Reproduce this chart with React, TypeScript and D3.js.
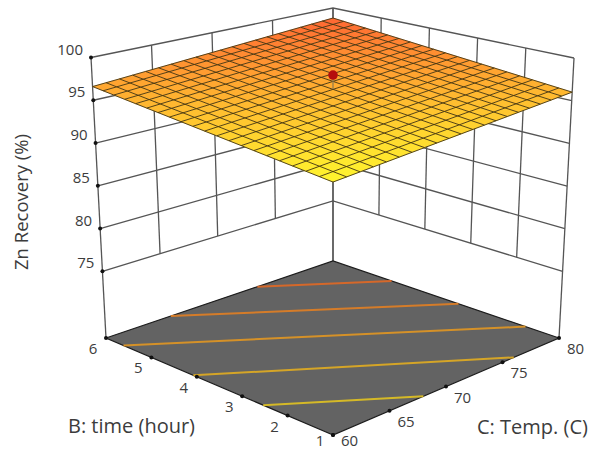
import React from 'react'
import * as d3 from 'd3'

const timeTicks = [1, 2, 3, 4, 5, 6]
const tempTicks = [60, 65, 70, 75, 80]
const recoveryTicks = [75, 80, 85, 90, 95, 100]
const contourLevels = [94.8, 95.6, 96.4, 97.2, 98.0]

// surface height at the four corners of the design space
const zFront = 94.0 // B=1, C=60
const zLeft = 96.6 // B=6, C=60
const zRight = 96.0 // B=1, C=80
const zBack = 98.7 // B=6, C=80

const designPoint = [3.5, 70, 98.0]
const gridSteps = d3.range(0, 21)

// the box frame on screen: front, left, right, back
const floorFrame = [[333, 435], [106, 338], [559, 338], [333, 261]]
const topFrame = [[333, 125.4], [91, 57.5], [574, 58], [333, 8]]

const uScale = d3.scaleLinear().domain([1, 6]).range([0, 1])
const vScale = d3.scaleLinear().domain([60, 80]).range([0, 1])
const wScale = d3.scaleLinear().domain([67.2, 100]).range([0, 1])

const bilinear = (q: number[], u: number, v: number) =>
  q[0] * (1 - u) * (1 - v) + q[1] * u * (1 - v) + q[2] * (1 - u) * v + q[3] * u * v

function project(b: number, c: number, z: number) {
  const u = uScale(b), v = vScale(c), w = wScale(z)
  const floor = [0, 1].map(i => bilinear(floorFrame.map(p => p[i]), u, v))
  const top = [0, 1].map(i => bilinear(topFrame.map(p => p[i]), u, v))
  return [floor[0] + (top[0] - floor[0]) * w, floor[1] + (top[1] - floor[1]) * w]
}

const surfaceZ = (u: number, v: number) => bilinear([zFront, zLeft, zRight, zBack], u, v)

// the surface has visible perspective, so it gets a real homography
const p0 = project(1, 60, zFront), p1 = project(6, 60, zLeft), p2 = project(6, 80, zBack), p3 = project(1, 80, zRight)
const sx = p0[0] - p1[0] + p2[0] - p3[0]
const sy = p0[1] - p1[1] + p2[1] - p3[1]
const dx1 = p1[0] - p2[0], dx2 = p3[0] - p2[0], dy1 = p1[1] - p2[1], dy2 = p3[1] - p2[1]
const det = dx1 * dy2 - dx2 * dy1
const g = (sx * dy2 - dx2 * sy) / det
const h = (dx1 * sy - sx * dy1) / det

function surfacePoint(u: number, v: number) {
  const d = g * u + h * v + 1
  return [
    ((p1[0] - p0[0] + g * p1[0]) * u + (p3[0] - p0[0] + h * p3[0]) * v + p0[0]) / d,
    ((p1[1] - p0[1] + g * p1[1]) * u + (p3[1] - p0[1] + h * p3[1]) * v + p0[1]) / d,
  ]
}

const colour = d3.scaleLinear<string>()
  .domain([94, 96.3, 98.7])
  .range(['#fff52e', '#ffb030', '#ff6633'])

const line = d3.line()

// where a contour level crosses the edge of the floor
function contourEnds(level: number) {
  const edges = [[[1, 60], [6, 60]], [[6, 60], [6, 80]], [[6, 80], [1, 80]], [[1, 80], [1, 60]]]
  const ends: number[][] = []
  edges.forEach(([a, b]) => {
    const za = surfaceZ(uScale(a[0]), vScale(a[1]))
    const zb = surfaceZ(uScale(b[0]), vScale(b[1]))
    if ((za - level) * (zb - level) < 0) {
      const t = (level - za) / (zb - za)
      ends.push(project(a[0] + (b[0] - a[0]) * t, a[1] + (b[1] - a[1]) * t, 67.2))
    }
  })
  return ends
}

const FONT = '"Open Sans", sans-serif'
const wall = { stroke: '#555', strokeWidth: 1.3, fill: 'none' }
const tickText = { fontFamily: FONT, fontSize: 15, fill: '#3c3c3c', textAnchor: 'middle' as const, dominantBaseline: 'central' as const }
const titleText = { fontFamily: FONT, fontSize: 20, fill: '#3c3c3c' }

export default function App() {
  const zMin = wScale.domain()[0]
  const cells = gridSteps.slice(0, -1).flatMap(i => gridSteps.slice(0, -1).map(j => [i / 20, j / 20]))
  const centre = surfacePoint(uScale(designPoint[0]), vScale(designPoint[1]))
  const lift = project(designPoint[0], designPoint[1], designPoint[2])[1] - project(designPoint[0], designPoint[1], surfaceZ(0.5, 0.5))[1]

  return (
    <svg width={598} height={450} style={{ position: 'absolute', left: 0, top: 0, background: '#fff' }}>
      {/* walls */}
      {recoveryTicks.map(z => (
        <path key={z} d={line([project(6, 60, z), project(6, 80, z), project(1, 80, z)])!} {...wall} />
      ))}
      {tempTicks.map(c => (
        <path key={c} d={line([project(6, c, c === 60 || c === 80 ? zMin : 75), project(6, c, 100)])!} {...wall} />
      ))}
      {timeTicks.slice(1).map(b => (
        <path key={b} d={line([project(b, 80, b === 6 ? zMin : 75), project(b, 80, 100)])!} {...wall} />
      ))}
      <path d={line([project(1, 80, zMin), project(1, 80, 100)])!} {...wall} />

      {/* floor */}
      <path
        d={line([project(1, 60, zMin), project(6, 60, zMin), project(6, 80, zMin), project(1, 80, zMin)])! + 'Z'}
        fill="#636363" stroke="#1c1c1c" strokeWidth={1.2}
      />
      {contourLevels.map(level => (
        <path key={level} d={line(contourEnds(level))!} fill="none" strokeWidth={2}
          stroke={d3.color(colour(level))!.darker(0.5).formatHex()} />
      ))}

      {/* surface */}
      {cells.map(([u, v]) => (
        <path key={`${u}-${v}`}
          d={line([surfacePoint(u, v), surfacePoint(u + 0.05, v), surfacePoint(u + 0.05, v + 0.05), surfacePoint(u, v + 0.05)])! + 'Z'}
          fill={colour(surfaceZ(u + 0.025, v + 0.025))} stroke={colour(surfaceZ(u + 0.025, v + 0.025))} strokeWidth={0.4} />
      ))}
      {gridSteps.map(i => (
        <g key={i} stroke="#43340f" strokeWidth={1} fill="none" strokeOpacity={0.9}>
          <path d={line(gridSteps.map(j => surfacePoint(i / 20, j / 20)))!} />
          <path d={line(gridSteps.map(j => surfacePoint(j / 20, i / 20)))!} />
        </g>
      ))}

      {/* design point */}
      <path d={line([centre, [centre[0], centre[1] + lift]])!} stroke="#8a7a50" strokeWidth={1.2} />
      <circle cx={centre[0]} cy={centre[1] + lift} r={4.8} fill="#b50d0d" />

      {/* ticks and labels */}
      {recoveryTicks.map(z => {
        const [x, y] = project(6, 60, z)
        return (
          <g key={z}>
            <circle cx={x} cy={y} r={2} fill="#111" />
            <text {...tickText} textAnchor="end" x={x - 8} y={y - 9}>{z}</text>
          </g>
        )
      })}
      {timeTicks.map(b => {
        const [x, y] = project(b, 60, zMin)
        return (
          <g key={b}>
            <circle cx={x} cy={y} r={2} fill="#111" />
            <text {...tickText} x={x - 13} y={y + (b === 1 ? 5 : 10)}>{b}</text>
          </g>
        )
      })}
      {tempTicks.map(c => {
        const [x, y] = project(1, c, zMin)
        return (
          <g key={c}>
            <circle cx={x} cy={y} r={2} fill="#111" />
            <text {...tickText} x={x + 16.5} y={y + (c === 60 ? 5 : 10)}>{c}</text>
          </g>
        )
      })}

      <text {...titleText} x={68} y={433}>B: time (hour)</text>
      <text {...titleText} x={477} y={434}>C: Temp. (C)</text>
      <text {...titleText} fontSize={18.5} transform="translate(28,202) rotate(-90)" textAnchor="middle">Zn Recovery (%)</text>
    </svg>
  )
}
